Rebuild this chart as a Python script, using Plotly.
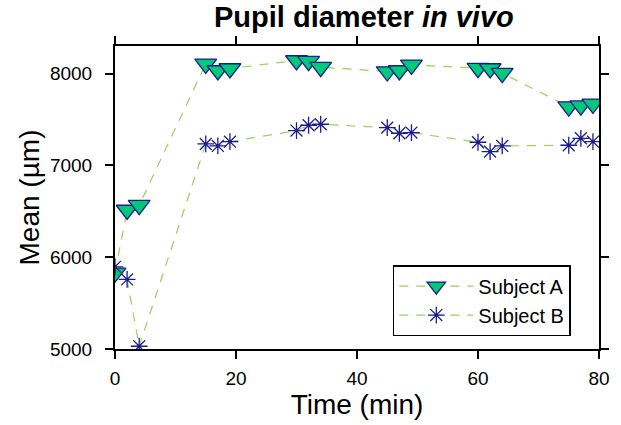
import plotly.graph_objects as go

time_min = [0, 2, 4, 15, 17, 19, 30, 32, 34, 45, 47, 49, 60, 62, 64, 75, 77, 79]
subject_a = [5830, 6514, 6566, 8106, 8033, 8055, 8142, 8135, 8070, 8022, 8033, 8095,
             8058, 8055, 8004, 7640, 7650, 7670]
subject_b = [5895, 5758, 5030, 7233, 7212, 7258, 7379, 7437, 7448, 7411, 7350, 7357,
             7252, 7150, 7212, 7219, 7295, 7258]
x_ticks = [0, 20, 40, 60, 80]
y_ticks = [5000, 6000, 7000, 8000]

line_color = "#94d45a"
navy = "#1c1c8f"
FONT = "Liberation Sans, Arial"

fig = go.Figure()
fig.add_trace(go.Scatter(
    x=time_min, y=subject_a, name="Subject A", mode="lines+markers",
    line=dict(color=line_color, width=1.2, dash="9px,8px"),
    marker=dict(symbol="triangle-down", size=19, color="#00c97a",
                line=dict(color=navy, width=1.3)),
))
fig.add_trace(go.Scatter(
    x=time_min, y=subject_b, name="Subject B", mode="lines+markers",
    line=dict(color=line_color, width=1.2, dash="9px,8px"),
    marker=dict(symbol="asterisk-open", size=14, color=navy,
                line=dict(color=navy, width=1.3)),
))

axis_common = dict(
    showgrid=False, zeroline=False, showline=True, linecolor="black", linewidth=2,
    mirror="ticks", ticks="outside", ticklen=8, tickwidth=2, tickcolor="black",
    tickfont=dict(family=FONT, size=19, color="black"),
)
fig.update_xaxes(range=[0, 80], tickvals=x_ticks, ticklabelstandoff=3, **axis_common,
                 title=dict(text="Time (min)", standoff=2,
                            font=dict(family=FONT, size=28, color="black")))
fig.update_yaxes(range=[5000, 8300], tickvals=y_ticks, ticklabelstandoff=9,
                 **axis_common,
                 title=dict(text="Mean (µm)", standoff=2,
                            font=dict(family=FONT, size=28, color="black")))

fig.update_layout(
    width=621, height=425,
    margin=dict(l=115, r=11, t=46, b=76),
    paper_bgcolor="white", plot_bgcolor="white",
    title=dict(text="<b>Pupil diameter <i>in vivo</i></b>", x=0.586, xanchor="center",
               y=0.96, yanchor="middle",
               font=dict(family=FONT, size=29, color="black")),
    legend=dict(x=0.574, y=0.277, xanchor="left", yanchor="top",
                bordercolor="black", borderwidth=1.5, bgcolor="white",
                font=dict(family=FONT, size=20, color="black"),
                itemwidth=74),
    showlegend=True,
)

fig.write_html("out.html")
